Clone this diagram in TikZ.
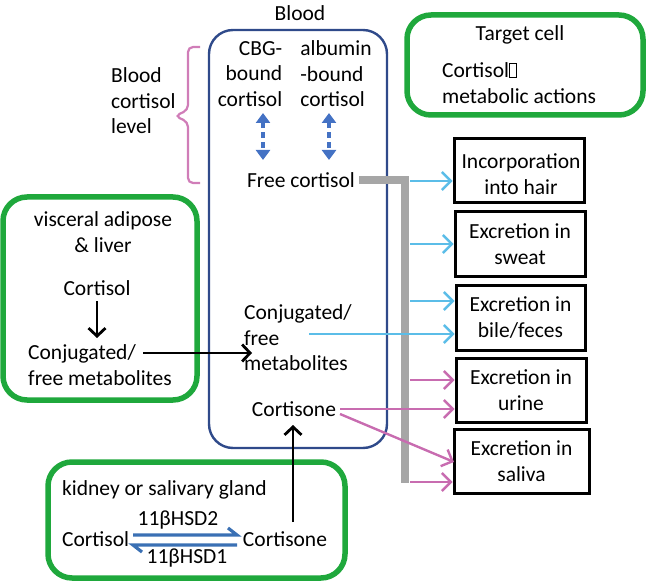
\documentclass[tikz,border=0pt]{standalone}
\usepackage{fontspec}
\setmainfont{Carlito}
\usetikzlibrary{arrows.meta,calc}
\definecolor{bloodc}{HTML}{2F4A8A}
\definecolor{greenc}{HTML}{1FA83C}
\definecolor{lblue}{HTML}{5BBDE8}
\definecolor{magc}{HTML}{C86CB0}
\definecolor{grayc}{HTML}{A6A6A6}
\definecolor{dblue}{HTML}{4472C4}
\definecolor{hblue}{HTML}{3A70B4}
\definecolor{bracec}{HTML}{D07DB8}
\newcommand{\missingglyph}{{\setlength{\fboxsep}{0pt}\setlength{\fboxrule}{0.9pt}\fbox{\rule{0pt}{13pt}\hspace{6pt}}}}
\begin{document}
\begin{tikzpicture}[x=1pt,y=-1pt,
  every node/.style={font=\fontsize{21.5}{25.5}\selectfont, inner sep=0pt},
  greenbox/.style={draw=greenc, line width=5.5pt, rounded corners=24pt},
  bloodbox/.style={draw=bloodc, line width=2.4pt, rounded corners=24pt},
  outbox/.style={draw=black, line width=3pt, align=center},
  bluearr/.style={draw=lblue, line width=2.4pt, -{Straight Barb[length=9pt,width=18pt,line width=2.4pt]}},
  magarr/.style={draw=magc, line width=2.4pt, -{Straight Barb[length=9pt,width=18pt,line width=2.4pt]}},
  blackarr/.style={draw=black, line width=2.8pt, -{Straight Barb[length=8pt,width=17pt,line width=2.8pt]}},
  dasharr/.style={draw=dblue, line width=3.2pt, dash pattern=on 6pt off 4pt, {Triangle[length=10pt,width=14pt]}-{Triangle[length=10pt,width=14pt]}},
  harp/.style={draw=hblue, line width=3.2pt, line cap=butt},
  grayline/.style={draw=grayc, line width=8pt, line join=miter}
]
\useasboundingbox (0,0) rectangle (646,583);

% Blood compartment
\node (bloodlbl) at (300,13) {Blood};
\node[bloodbox, minimum width=178pt, minimum height=418pt] (blood) at (298,239) {};
\node[align=right] (cbg) at (250,74) {CBG-\\bound\\cortisol};
\node[align=left] (alb) at (336,74) {albumin\\-bound\\cortisol};
\coordinate (d1a) at (263,113);
\coordinate (d1b) at (263,160);
\coordinate (d2a) at (329,113);
\coordinate (d2b) at (329,160);
\draw[dasharr] (d1a) -- (d1b);
\draw[dasharr] (d2a) -- (d2b);
\node (free) at (301,180) {Free cortisol};
\node[align=left] (conjb) at (298,338) {Conjugated/\\free\\metabolites};
\node (cortb) at (294,409) {Cortisone};

% Blood cortisol level brace
\node[align=left, anchor=west] (level) at (111,101) {Blood\\cortisol\\level};
\draw[draw=bracec, line width=2.2pt, rounded corners=5pt] (200,47) -- (188,47) -- (188,110) -- (175,116) -- (188,122) -- (188,183) -- (200,183);

% Target cell
\node[greenbox, minimum width=236pt, minimum height=100pt] (target) at (525,65) {};
\node (tcl) at (520,35) {Target cell};
\node[anchor=west] (tca) at (442,70) {Cortisol\missingglyph};
\node[anchor=west] (tcb) at (442,96) {metabolic actions};

% Output boxes
\node[outbox, minimum width=130pt, minimum height=64pt] (hair) at (519,171) {};
\node[align=center] (hairt) at (521,174) {Incorporation\\into hair};
\node[outbox, minimum width=130pt, minimum height=64pt] (sweat) at (520,244) {Excretion in\\sweat};
\node[outbox, minimum width=129pt, minimum height=65pt] (bile) at (520.5,317.5) {Excretion in\\bile/feces};
\node[outbox, minimum width=130pt, minimum height=64pt] (urine) at (521,390) {Excretion in\\urine};
\node[outbox, minimum width=135pt, minimum height=64pt] (saliva) at (521.5,461) {Excretion in\\saliva};

% Gray distribution line
\coordinate (gtop) at (405,180);
\coordinate (gbot) at (405,483);
\draw[grayline] ([xshift=4pt]free.east) -- (gtop) -- (gbot);

% Blue arrows
\coordinate (b1) at (410,181);
\coordinate (b2) at (410,244);
\coordinate (b3) at (410,301);
\coordinate (b4) at (309,334);
\draw[bluearr] (b1) -- (b1 -| hair.west);
\draw[bluearr] (b2) -- (b2 -| sweat.west);
\draw[bluearr] (b3) -- (b3 -| bile.west);
\draw[bluearr] (b4) -- (b4 -| bile.west);

% Magenta arrows
\coordinate (m1) at (410,380);
\coordinate (m2) at (340,409);
\coordinate (m3) at (340,414);
\coordinate (m4) at (410,482);
\coordinate (m3e) at (454,462);
\draw[magarr] (m1) -- (m1 -| urine.west);
\draw[magarr] (m2) -- (m2 -| urine.west);
\draw[magarr] (m3) -- (m3e);
\draw[magarr] (m4) -- (m4 -| saliva.west);

% Visceral adipose & liver
\node[greenbox, minimum width=194pt, minimum height=203pt] (visc) at (100,298.5) {};
\node[align=center] (vtitle) at (103,232) {visceral adipose\\\& liver};
\node (vcort) at (97,288) {Cortisol};
\node[align=left] (vconj) at (100,365) {Conjugated/\\free metabolites};
\coordinate (va) at (97,301);
\coordinate (vb) at (97,338);
\draw[blackarr] (va) -- (vb);
\coordinate (vc) at (143,353);
\coordinate (vd) at (252,353);
\draw[blackarr] (vc) -- (vd);

% Kidney or salivary gland
\node[greenbox, minimum width=297pt, minimum height=116pt] (kid) at (196.5,520) {};
\node[anchor=west] (ktitle) at (62,490) {kidney or salivary gland};
\node[anchor=west] (kcort) at (62,539) {Cortisol};
\node (kcorn) at (285,539) {Cortisone};
\node (hsd2) at (178,520) {11βHSD2};
\node (hsd1) at (187,558) {11βHSD1};
\coordinate (h1) at (133,535);
\coordinate (h2) at (237,535);
\coordinate (h3) at (228,528);
\coordinate (h4) at (133,545);
\coordinate (h5) at (237,545);
\coordinate (h6) at (142,552);
\draw[harp] (h1) -- (h2) -- (h3);
\draw[harp] (h5) -- (h4) -- (h6);
\coordinate (ku) at (293,522);
\coordinate (kt) at (293,425);
\draw[blackarr] (ku) -- (kt);
\end{tikzpicture}
\end{document}
